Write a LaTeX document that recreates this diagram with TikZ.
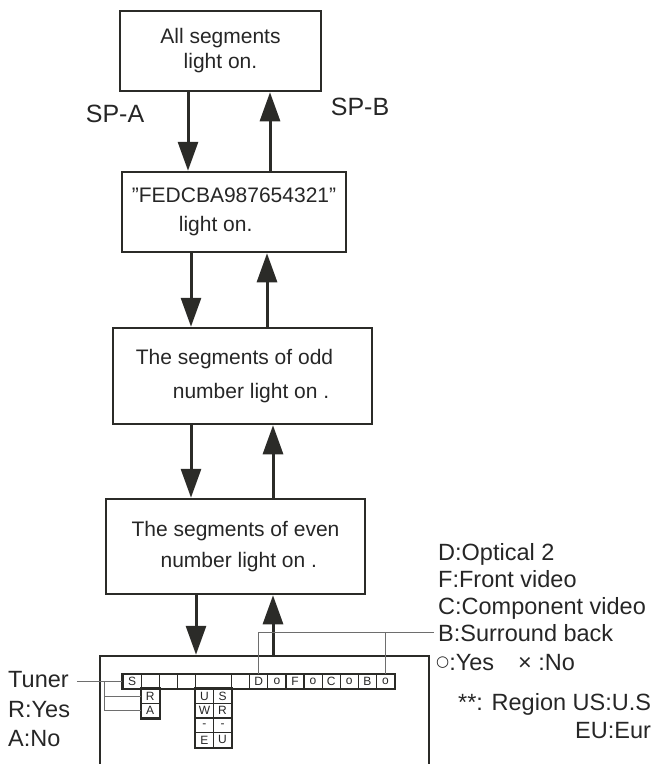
\documentclass[tikz,border=0pt]{standalone}
\usepackage{fontspec}
\setmainfont{Liberation Sans}
\newfontfamily\symfont{DejaVu Sans}
\usetikzlibrary{positioning, arrows.meta, calc}
\definecolor{segInk}{HTML}{2B2B28}
\definecolor{segText}{HTML}{262626}
\definecolor{segThin}{HTML}{6E6E6E}

\begin{document}
\begin{tikzpicture}[x=1pt, y=-1pt, font=\fontsize{21}{25}\selectfont, text=segText,
    stage/.style={draw=segInk, line width=2.5pt, inner sep=0pt, align=left},
    flow/.style={draw=segInk, line width=3pt, -{Triangle[length=29pt, width=20pt]}},
    thinline/.style={draw=segThin, line width=1pt},
    cell/.style={draw=segInk, line width=1.2pt, inner sep=0pt, minimum width=18.1pt,
      minimum height=14.6pt, font=\fontsize{12}{12}\selectfont},
    outline/.style={draw=segInk, line width=2pt},
    note/.style={anchor=base west, inner sep=0pt, font=\fontsize{23.5}{26}\selectfont},
    splabel/.style={font=\fontsize{25}{28}\selectfont}]
  \useasboundingbox (0,0) rectangle (654,764);
  \clip (0,0) rectangle (654,764);

  \node[stage, minimum width=201pt, minimum height=80pt, align=center] (b1) at (220.5,51)
    {All segments\\light on.};
  \node[stage, minimum width=224pt, minimum height=80pt] (b2) at (234,212)
    {\symbol{34}FEDCBA987654321\symbol{34}\\[4pt]\hspace*{47pt}light on.};
  \node[stage, minimum width=259pt, minimum height=96pt] (b3) at (242.5,376)
    {The segments of odd\hspace*{16pt}\\[9pt]\hspace*{37pt}number light on .};
  \node[stage, minimum width=259pt, minimum height=95pt] (b4) at (235.5,546.5)
    {The segments of even\\[6pt]\hspace*{29pt}number light on .};
  \node[stage, minimum width=329pt, minimum height=130pt] (panel) at (264.5,721) {};

  \node[splabel] (spa) at (115,114) {SP-A};
  \node[splabel] (spb) at (360,107) {SP-B};

  \foreach \a/\b/\xd/\xu in {b1/b2/188/270, b2/b3/191/267, b3/b4/191/273, b4/panel/196/273} {
    \draw[flow] (\a.south -| \xd,0) -- (\b.north -| \xd,0);
    \draw[flow] (\b.north -| \xu,0) -- (\a.south -| \xu,0);
  }

  % display row
  \foreach \n/\k/\t in {c0/0/S, c1/1/, c2/2/, c3/3/, c5/6/, c6/7/D, c7/8/o, c8/9/F,
      c9/10/o, c10/11/C, c11/12/o, c12/13/B, c13/14/o}
    \node[cell] (\n) at ({123+18.1*(\k+0.5)},681.5) {\t};
  \node[cell, minimum width=36.2pt] (c4) at (213.5,681.5) {};
  \node[cell] (r1) at (150.15,696.1) {R};
  \node[cell] (r2) at (150.15,710.7) {A};
  \foreach \r/\y/\u/\s in {1/696.1/U/S, 2/710.7/W/R, 3/725.3/-/-, 4/739.9/E/U} {
    \node[cell] (u\r) at (204.45,\y) {\u};
    \node[cell] (s\r) at (222.55,\y) {\s};
  }
  \draw[outline] (c0.north west) rectangle (c13.south east);
  \draw[outline] (r1.north west) rectangle (r2.south east);
  \draw[outline] (u1.north west) rectangle (s4.south east);

  \node[note] (tuner) at (8,687) {Tuner};
  \node[note] (ryes) at (8,717) {R:Yes};
  \node[note] (ano) at (8,746) {A:No};
  \coordinate (brk) at (c0.west -| 104,0);
  \draw[thinline] ([xshift=8pt]tuner.east |- c0.west) -- (c0.west);
  \draw[thinline] (brk) |- (r2.west);
  \draw[thinline] (brk |- r1.west) -- (r1.west);

  \node[note] (dopt) at (438,560) {D:Optical 2};
  \node[note] (ffront) at (438,587) {F:Front video};
  \node[note] (ccomp) at (438,614) {C:Component video};
  \node[note] (bsur) at (438,641) {B:Surround back};
  \node[note] (yesno) at (436,670)
    {\raisebox{3.5pt}{\symfont\fontsize{15}{15}\selectfont ○}:Yes\hspace{24pt}× :No};
  \node[note] (region) at (458,710) {**: Region US:U.S};
  \node[note] (eu) at (575,738) {EU:Eur};
  \draw[thinline] (c6.north) |- ([xshift=-4pt]bsur.west);
  \draw[thinline] (c13.north) -- (c13.north |- bsur.west);
\end{tikzpicture}
\end{document}
